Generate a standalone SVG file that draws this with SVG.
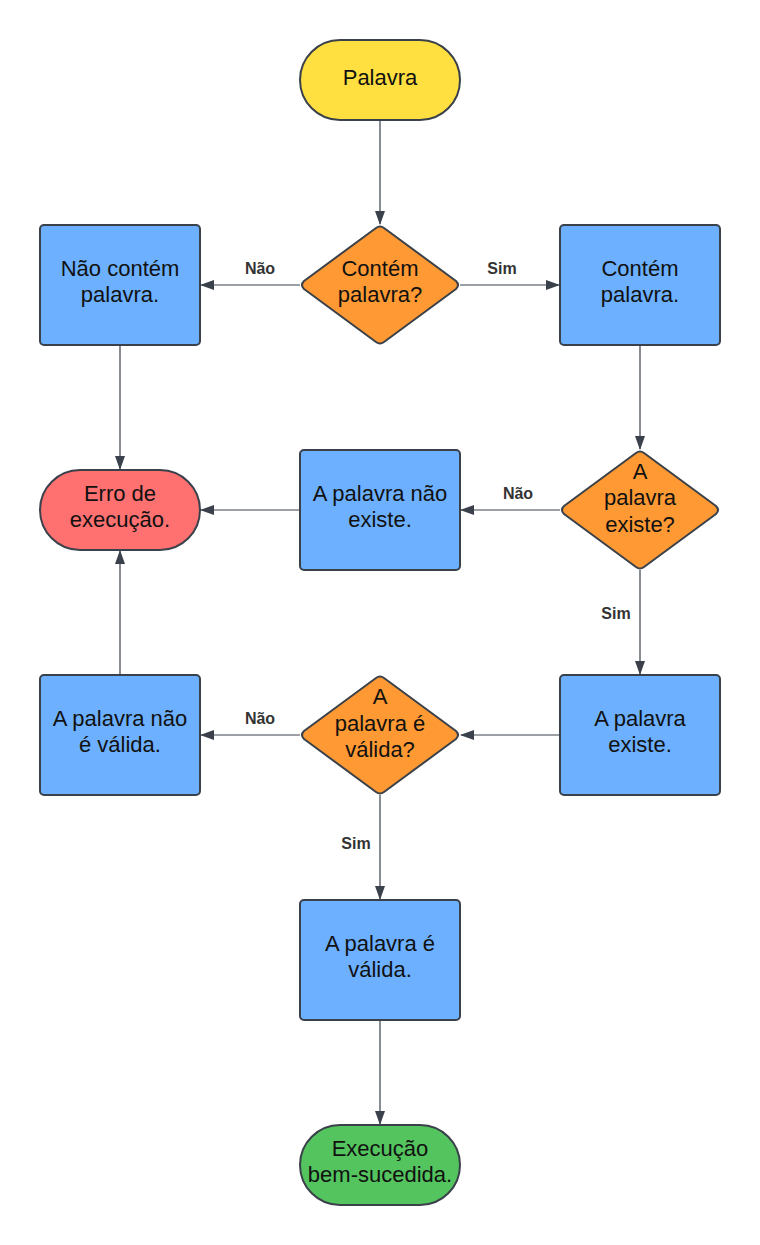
<svg xmlns="http://www.w3.org/2000/svg" width="760" height="1245" viewBox="0 0 760 1245">
<style>
.s{stroke:#3a414a;stroke-width:2;stroke-linejoin:round}
.t{font-family:"Liberation Sans",Arial,sans-serif;font-size:22px;fill:#111;text-anchor:middle}
.l{font-family:"Liberation Sans",Arial,sans-serif;font-size:16px;font-weight:bold;fill:#333;text-anchor:middle}
.c{stroke:#3a414a;stroke-width:1.2;fill:none;marker-end:url(#a)}
.box{fill:#6cb0ff}
.dia{fill:#ff9933}
</style>
<defs>
<marker id="a" markerWidth="14" markerHeight="10" refX="13" refY="5" orient="auto" markerUnits="userSpaceOnUse">
<path d="M0,0 L14,5 L0,10 z" fill="#3a414a"/>
</marker>
</defs>
<rect width="760" height="1245" fill="#fff"/>
<g id="connectors">
<path class="c" d="M380,120 V224"/>
<path class="c" d="M300,285 H201"/>
<path class="c" d="M460,285 H559"/>
<path class="c" d="M120,345 V469"/>
<path class="c" d="M640,345 V449"/>
<path class="c" d="M560,510 H461"/>
<path class="c" d="M300,510 H201"/>
<path class="c" d="M640,570 V674"/>
<path class="c" d="M560,735 H461"/>
<path class="c" d="M300,735 H201"/>
<path class="c" d="M120,675 V551"/>
<path class="c" d="M380,795 V899"/>
<path class="c" d="M380,1020 V1124"/>
<text class="l" x="260" y="274">Não</text>
<text class="l" x="502" y="274">Sim</text>
<text class="l" x="518" y="499">Não</text>
<text class="l" x="616" y="619">Sim</text>
<text class="l" x="260" y="724">Não</text>
<text class="l" x="356" y="849">Sim</text>
</g>
<g id="n-palavra">
<rect class="s" x="300" y="40" width="160" height="80" rx="40" fill="#ffe040"/>
<text class="t" x="380" y="85">Palavra</text>
</g>
<g id="n-contem-q">
<path class="s dia" d="M376,228 Q380,225 384,228 L456,281 Q460,285 456,289 L384,342 Q380,345 376,342 L304,289 Q300,285 304,281 Z"/>
<text class="t" x="380" y="276">Contém</text>
<text class="t" x="380" y="302">palavra?</text>
</g>
<g id="n-nao-contem">
<rect class="s box" x="40" y="225" width="160" height="120" rx="4"/>
<text class="t" x="120" y="276">Não contém</text>
<text class="t" x="120" y="302">palavra.</text>
</g>
<g id="n-contem">
<rect class="s box" x="560" y="225" width="160" height="120" rx="4"/>
<text class="t" x="640" y="276">Contém</text>
<text class="t" x="640" y="302">palavra.</text>
</g>
<g id="n-existe-q">
<path class="s dia" d="M636,453 Q640,450 644,453 L716,506 Q720,510 716,514 L644,567 Q640,570 636,567 L564,514 Q560,510 564,506 Z"/>
<text class="t" x="640" y="479">A</text>
<text class="t" x="640" y="505">palavra</text>
<text class="t" x="640" y="532">existe?</text>
</g>
<g id="n-nao-existe">
<rect class="s box" x="300" y="450" width="160" height="120" rx="4"/>
<text class="t" x="380" y="501">A palavra não</text>
<text class="t" x="380" y="527">existe.</text>
</g>
<g id="n-erro">
<rect class="s" x="40" y="470" width="160" height="80" rx="40" fill="#ff7070"/>
<text class="t" x="120" y="501">Erro de</text>
<text class="t" x="120" y="527">execução.</text>
</g>
<g id="n-existe">
<rect class="s box" x="560" y="675" width="160" height="120" rx="4"/>
<text class="t" x="640" y="726">A palavra</text>
<text class="t" x="640" y="752">existe.</text>
</g>
<g id="n-valida-q">
<path class="s dia" d="M376,678 Q380,675 384,678 L456,731 Q460,735 456,739 L384,792 Q380,795 376,792 L304,739 Q300,735 304,731 Z"/>
<text class="t" x="380" y="704">A</text>
<text class="t" x="380" y="731">palavra é</text>
<text class="t" x="380" y="757">válida?</text>
</g>
<g id="n-nao-valida">
<rect class="s box" x="40" y="675" width="160" height="120" rx="4"/>
<text class="t" x="120" y="726">A palavra não</text>
<text class="t" x="120" y="752">é válida.</text>
</g>
<g id="n-valida">
<rect class="s box" x="300" y="900" width="160" height="120" rx="4"/>
<text class="t" x="380" y="951">A palavra é</text>
<text class="t" x="380" y="977">válida.</text>
</g>
<g id="n-sucesso">
<rect class="s" x="300" y="1125" width="160" height="80" rx="40" fill="#54c45e"/>
<text class="t" x="380" y="1156">Execução</text>
<text class="t" x="380" y="1182">bem-sucedida.</text>
</g>
</svg>
